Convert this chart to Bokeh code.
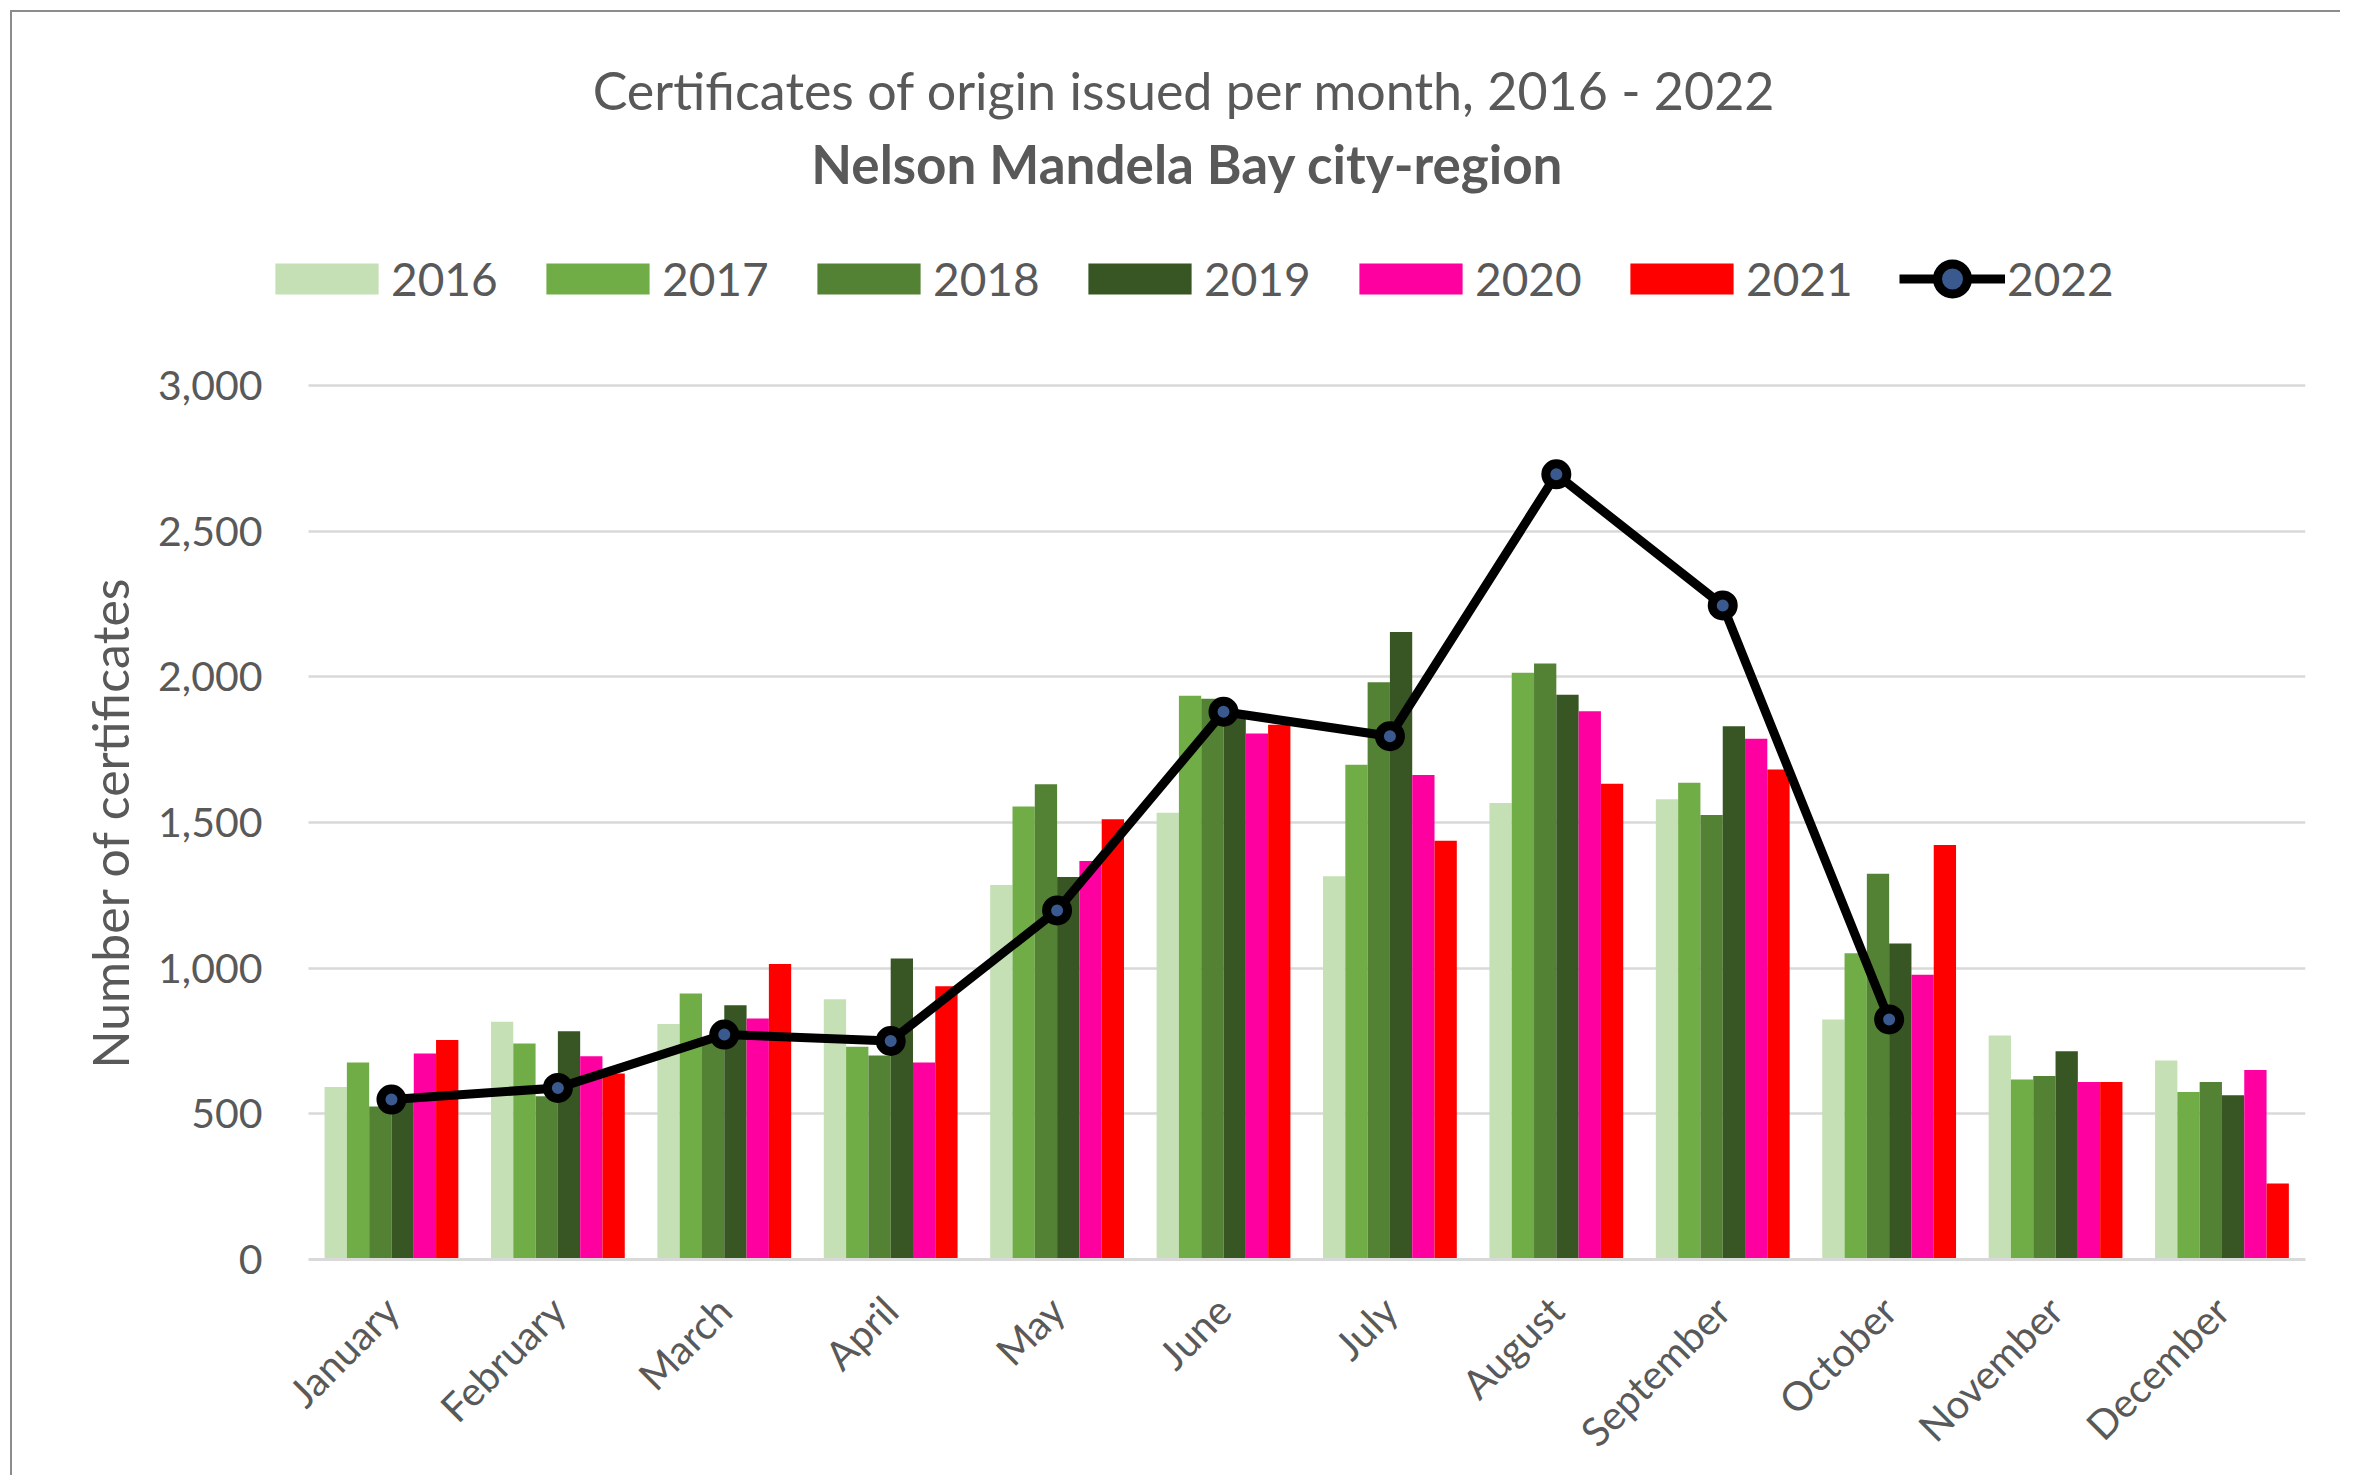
import math
from bokeh.plotting import figure
from bokeh.models import (ColumnDataSource, Range1d, FixedTicker, NumeralTickFormatter,
                          Legend, LegendItem, Label, Title)
from bokeh.transform import dodge
from bokeh.embed import file_html
from bokeh.resources import INLINE

months = ["January", "February", "March", "April", "May", "June", "July",
          "August", "September", "October", "November", "December"]
month_pos = [0, 1, 2, 3, 4, 5, 6, 7, 8, 9, 10, 11]
years = ["2016", "2017", "2018", "2019", "2020", "2021"]
y2016 = [592, 816, 808, 893, 1285, 1533, 1315, 1567, 1580, 824, 769, 683]
y2017 = [676, 741, 913, 730, 1555, 1935, 1698, 2014, 1636, 1051, 618, 575]
y2018 = [525, 560, 750, 700, 1631, 1925, 1981, 2046, 1526, 1324, 630, 609]
y2019 = [560, 783, 873, 1033, 1313, 1880, 2154, 1938, 1830, 1085, 715, 564]
y2020 = [707, 698, 827, 676, 1368, 1805, 1663, 1882, 1787, 977, 609, 650]
y2021 = [753, 638, 1014, 938, 1511, 1835, 1437, 1633, 1682, 1423, 609, 261]
y2022 = [549, 589, 772, 750, 1198, 1880, 1796, 2695, 2245, 824]
y_ticks = [0, 500, 1000, 1500, 2000, 2500, 3000]

colors = ["#C5E0B4", "#70AD47", "#548235", "#375623", "#FF00A0", "#FF0000"]
series = [y2016, y2017, y2018, y2019, y2020, y2021]

FONT = "Lato"
GREY = "#595959"

src = ColumnDataSource(data=dict(pos=month_pos, month=months,
                                 **{y: s for y, s in zip(years, series)}))
src22 = ColumnDataSource(data=dict(pos=month_pos[:len(y2022)], val=y2022))

p = figure(width=2330, height=1465, output_backend="svg", toolbar_location=None,
           x_range=Range1d(-0.775, 11.502), y_range=Range1d(0, 4280),
           min_border_left=250, min_border_right=37, min_border_top=0,
           min_border_bottom=218, outline_line_color=None,
           background_fill_color="white", border_fill_color="white")
p.margin = (10, 0, 0, 10)
p.styles = {"border-top": "2px solid #8c8c8c", "border-left": "2px solid #8c8c8c"}

bw = 0.134
bar_renderers = []
for j, (yr, col) in enumerate(zip(years, colors)):
    r = p.vbar(x=dodge("pos", (j - 2.5) * bw), top=yr, width=bw, source=src,
               fill_color=col, line_color=None)
    bar_renderers.append(r)

ln = p.line(x="pos", y="val", source=src22, line_color="black", line_width=9)
mk = p.scatter(x="pos", y="val", source=src22, marker="circle", size=21,
               fill_color="#3A5A8F", line_color="black", line_width=9)

# y axis
p.yaxis.ticker = FixedTicker(ticks=y_ticks)
p.yaxis.formatter = NumeralTickFormatter(format="0,0")
p.yaxis.axis_line_color = None
p.yaxis.major_tick_line_color = None
p.yaxis.minor_tick_line_color = None
p.yaxis.major_tick_out = 0
p.yaxis.major_tick_in = 0
p.yaxis.minor_tick_out = 0
p.yaxis.major_label_standoff = 0
p.yaxis.major_label_text_font = FONT
p.yaxis.major_label_text_font_size = "41px"
p.yaxis.major_label_text_color = GREY

# x axis
p.xaxis.ticker = FixedTicker(ticks=month_pos)
p.xaxis.major_label_overrides = {i: m for i, m in zip(month_pos, months)}
p.xaxis.bounds = (-0.5, 11.5)
p.xaxis.axis_line_color = "#D9D9D9"
p.xaxis.axis_line_width = 3
p.xaxis.major_tick_line_color = None
p.xaxis.minor_tick_line_color = None
p.xaxis.major_tick_out = 0
p.xaxis.major_tick_in = 0
p.xaxis.minor_tick_out = 0
p.xaxis.major_label_orientation = math.pi / 4
p.xaxis.major_label_standoff = 44
p.xaxis.major_label_text_font = FONT
p.xaxis.major_label_text_font_size = "40px"
p.xaxis.major_label_text_color = GREY

p.xgrid.grid_line_color = None
p.ygrid.ticker = FixedTicker(ticks=y_ticks)
p.ygrid.grid_line_color = "#D9D9D9"
p.ygrid.grid_line_width = 2.5
p.ygrid.cross_bounds = (-0.5, 11.5)

# axis title on the left
p.add_layout(Title(text="Number of certificates", align="left", offset=191, standoff=32,
                   text_font=FONT, text_font_size="50px", text_color=GREY,
                   text_font_style="normal"), "left")

# titles
p.add_layout(Label(x=4.766, y=4013, text="Certificates of origin issued per month, 2016 - 2022",
                   text_align="center", text_baseline="middle",
                   text_font=FONT, text_font_size="52px", text_color=GREY))
p.add_layout(Label(x=4.784, y=3762, text="Nelson Mandela Bay city-region",
                   text_align="center", text_baseline="middle", text_font_style="bold",
                   text_font=FONT, text_font_size="53px", text_color=GREY))

# legends
leg1 = Legend(items=[LegendItem(label=yr, renderers=[r]) for yr, r in zip(years, bar_renderers)],
              orientation="horizontal", location=(0, 953),
              glyph_width=129, glyph_height=39, label_standoff=0, label_width=107,
              spacing=35, padding=0, margin=0, border_line_color=None,
              background_fill_alpha=0, label_text_font=FONT, label_text_font_size="46px",
              label_text_color=GREY, label_text_baseline="middle")
leg2 = Legend(items=[LegendItem(label="2022", renderers=[ln, mk])],
              orientation="horizontal", location=(1637, 943),
              glyph_width=106, glyph_height=75, label_standoff=2,
              padding=0, margin=0, border_line_color=None,
              background_fill_alpha=0, label_text_font=FONT, label_text_font_size="46px",
              label_text_color=GREY, label_text_baseline="middle")
p.add_layout(leg1)
p.add_layout(leg2)

open("out.html", "w").write(file_html(p, INLINE))
